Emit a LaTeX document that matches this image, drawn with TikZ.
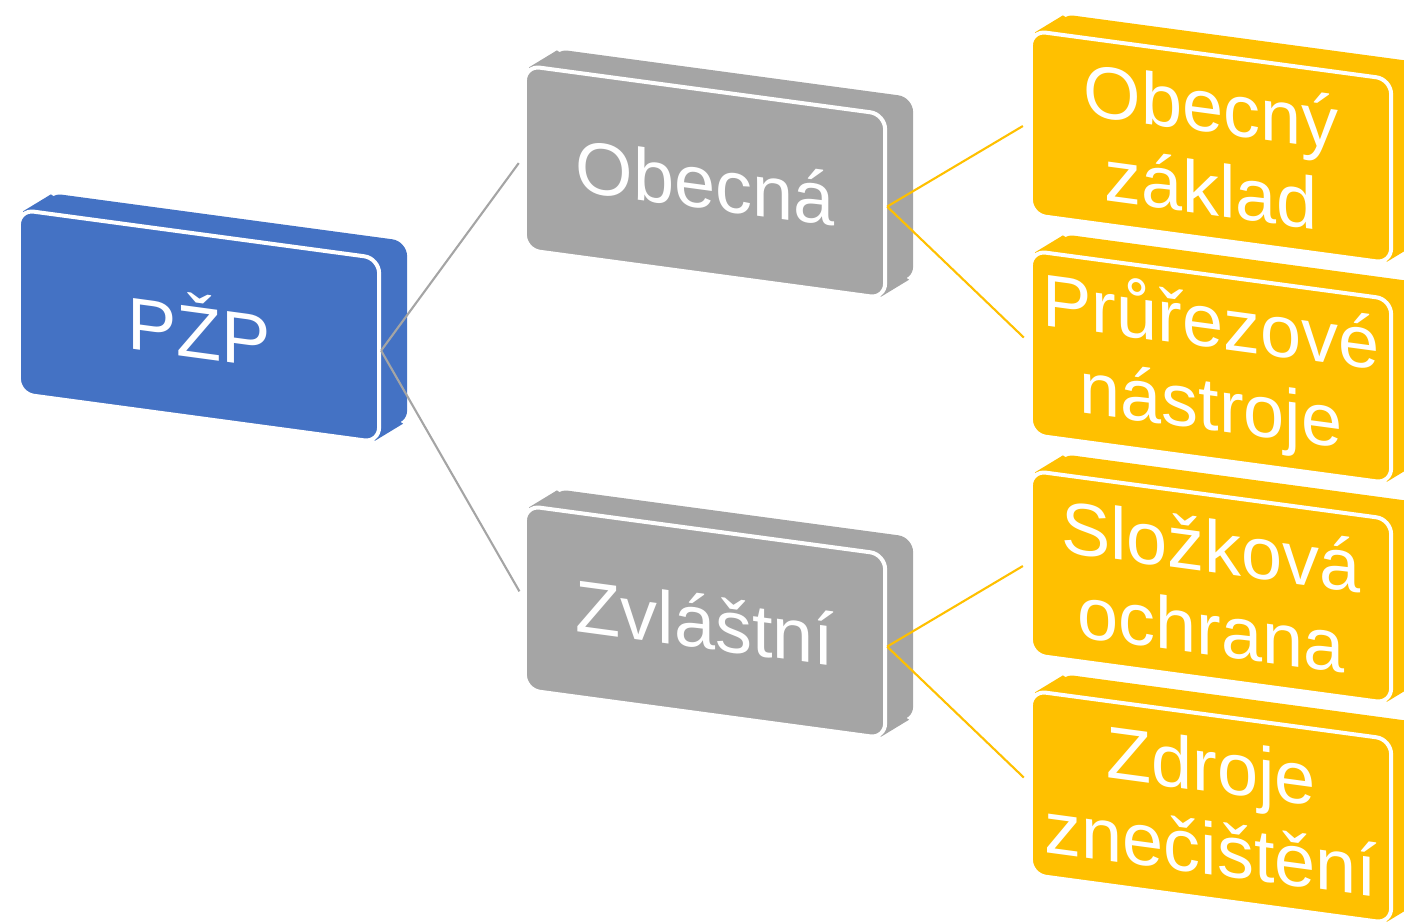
\documentclass[tikz,border=0pt]{standalone}
\usepackage{fontspec}
\setmainfont{Liberation Sans}
\usepackage{xcolor}
\usetikzlibrary{positioning, backgrounds}
\definecolor{pzpblue}{HTML}{4472C4}
\definecolor{pzpgray}{HTML}{A5A5A5}
\definecolor{pzporange}{HTML}{FFC000}
\tikzset{
slab/.style = {draw = white, line width = 0.04cm, rounded corners = 0.15cm, minimum width = 3.6cm, minimum height = 1.84cm, inner sep = 0pt, text = white, align = center, yslant = -0.135, transform shape, font = \fontsize{21}{23.5}\selectfont},
link/.style = {line width = 0.6pt, shorten > = 0.07cm}
}

\begin{document}
\begin{tikzpicture}[x = 0.01cm, y = -0.01cm]
\useasboundingbox (0, 0) rectangle (1404, 923);
\foreach \n/\x/\y/\c/\t in {pzp/199/326/pzpblue/PŽP, obecna/705/182/pzpgray/Obecná, zvlastni/705/622/pzpgray/Zvláštní, zaklad/1211/147/pzporange/{Obecný\\základ}, nastroje/1211/367/pzporange/{Průřezové\\nástroje}, slozkova/1211/587/pzporange/{Složková\\ochrana}, zdroje/1211/807/pzporange/{Zdroje\\znečištění}}
{\node[slab, fill = \c] at (\x, \y) (\n) {\t};}
\begin{pgfonlayer}{background}
\foreach \n/\c in {pzp/pzpblue, obecna/pzpgray, zvlastni/pzpgray, zaklad/pzporange, nastroje/pzporange, slozkova/pzporange, zdroje/pzporange}{
\node[slab, draw = none, fill = \c] at ([shift = {(28, -17)}]\n.center) (\n-back) {};
\fill[\c] ([shift = {(6, 4)}]\n.north west) -- ([shift = {(34, -13)}]\n.north west) -- ([shift = {(22, -21)}]\n.south east) -- ([shift = {(-6, -4)}]\n.south east) -- cycle;}
\end{pgfonlayer}
\foreach \a\b in {pzp/obecna, pzp/zvlastni}{\draw[link, pzpgray] (\a.east) -- (\b.west);}
\foreach \a\b in {obecna/zaklad, obecna/nastroje, zvlastni/slozkova, zvlastni/zdroje}{\draw[link, pzporange] (\a.east) -- (\b.west);}
\end{tikzpicture}
\end{document}
